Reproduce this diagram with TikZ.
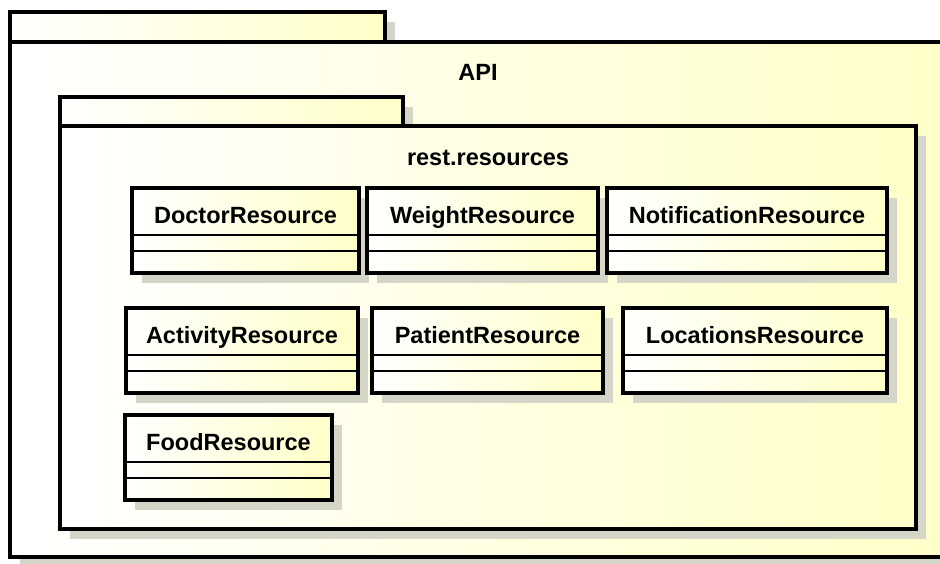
\documentclass[tikz,border=0pt]{standalone}
\usepackage{fontspec}
\setmainfont{Liberation Sans}
\definecolor{umlyellow}{RGB}{255,255,200}
\definecolor{umlshadow}{RGB}{214,214,200}
\tikzset{
  x=1pt, y=-1pt,
  pkgline/.style={draw=black, line width=3.2pt},
  clsline/.style={draw=black, line width=3.2pt},
  divline/.style={draw=black, line width=1.9pt},
  shadowfill/.style={fill=umlshadow},
  ushade/.style={left color=white, right color=umlyellow},
  titletext/.style={font=\fontsize{23.5}{28}\selectfont\bfseries, anchor=base, inner sep=0pt},
}
% UML class: name, left, top, right, label
\newcommand\umlclass[5]{%
  \fill[shadowfill] (#2+10,#3+10) rectangle (#4+10,#3+95);
  \path[ushade] (#2,#3) rectangle (#4,#3+85);
  \draw[divline] (#2,#3+47) -- (#4,#3+47);
  \draw[divline] (#2,#3+63) -- (#4,#3+63);
  \node[draw=none, minimum width=0pt, inner sep=0pt, rectangle] (#1) at ({(#2+#4)/2},#3+42.5) {};
  \node[titletext] (#1-label) at ({(#2+#4)/2},#3+35) {#5};
  \draw[clsline] (#2,#3) rectangle (#4,#3+85);
}
\begin{document}
\begin{tikzpicture}
\clip (0,0) rectangle (940,563);
\fill[white] (0,0) rectangle (940,563);

% outer package API
\fill[shadowfill] (20,22) rectangle (395,52);
\fill[shadowfill] (20,52) rectangle (956,567);
\path[ushade] (10,12) rectangle (385,42);
\draw[pkgline] (10,12) rectangle (385,42);
\path[ushade] (10,42) rectangle (946,557);
\draw[pkgline] (10,42) rectangle (946,557);
\node[titletext] (api) at (478,80) {API};

% inner package rest.resources
\fill[shadowfill] (70,107) rectangle (413,136);
\fill[shadowfill] (70,136) rectangle (926,539);
\path[ushade] (60,97) rectangle (403,126);
\draw[pkgline] (60,97) rectangle (403,126);
\path[ushade] (60,126) rectangle (916,529);
\draw[pkgline] (60,126) rectangle (916,529);
\node[titletext] (rest) at (488,165) {rest.resources};

% classes
\umlclass{doctor}{132}{188}{359}{DoctorResource}
\umlclass{weight}{367}{188}{598}{WeightResource}
\umlclass{notification}{607}{188}{887}{NotificationResource}
\umlclass{activity}{126}{308}{358}{ActivityResource}
\umlclass{patient}{372}{308}{603}{PatientResource}
\umlclass{locations}{623}{308}{887}{LocationsResource}
\umlclass{food}{125}{415}{332}{FoodResource}
\end{tikzpicture}
\end{document}
